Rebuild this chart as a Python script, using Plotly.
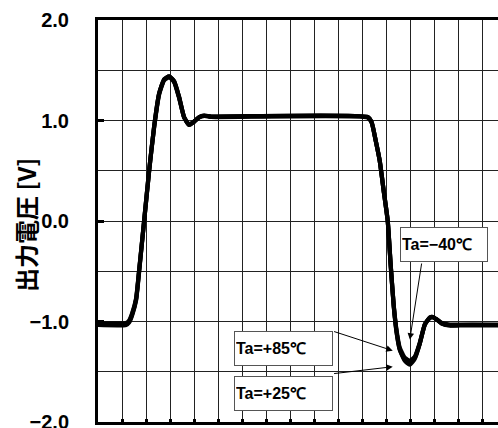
import plotly.graph_objects as go

# time axis in grid divisions
t = [0.0, 1.167, 1.292, 1.417, 1.583, 1.708, 1.917, 2.125, 2.333, 2.542, 2.75, 2.958,
     3.167, 3.375, 3.583, 3.792, 4.0, 4.208, 4.417, 4.708, 11.208, 11.375, 11.542,
     11.708, 11.875, 12.042, 12.167, 12.292, 12.417, 12.542, 12.75, 12.958, 13.167,
     13.375, 13.583, 13.792, 13.917, 14.083, 14.292, 14.625, 15.042, 16.708]

v_m40 = [-1.035, -1.035, -1.01, -0.94, -0.79, -0.51, 0.0, 0.5, 0.94, 1.27, 1.41, 1.44,
         1.39, 1.23, 1.03, 0.955, 0.99, 1.035, 1.05, 1.04, 1.035, 0.98, 0.8,
         0.6, 0.3, 0.0, -0.45, -0.85, -1.12, -1.28, -1.39, -1.43, -1.37,
         -1.22, -1.03, -0.96, -0.955, -0.98, -1.02, -1.04, -1.04, -1.04]
v_p25 = [-1.025, -1.025, -1.0, -0.93, -0.78, -0.5, 0.0, 0.5, 0.94, 1.27, 1.41, 1.44,
         1.39, 1.23, 1.03, 0.955, 0.99, 1.035, 1.05, 1.04, 1.035, 0.98, 0.8,
         0.6, 0.3, 0.0, -0.45, -0.85, -1.12, -1.28, -1.38, -1.41, -1.36,
         -1.22, -1.03, -0.96, -0.955, -0.98, -1.02, -1.04, -1.035, -1.035]
v_p85 = [-1.015, -1.015, -0.99, -0.92, -0.77, -0.49, 0.0, 0.5, 0.93, 1.26, 1.40, 1.43,
         1.38, 1.22, 1.03, 0.96, 0.99, 1.03, 1.045, 1.035, 1.03, 0.98, 0.8,
         0.6, 0.3, 0.0, -0.44, -0.84, -1.10, -1.26, -1.36, -1.39, -1.35,
         -1.21, -1.03, -0.965, -0.96, -0.98, -1.015, -1.03, -1.03, -1.03]

y_tickvals = [-2.0, -1.0, 0.0, 1.0, 2.0]
y_ticktext = ["\u22122.0", "\u22121.0", "0.0", "1.0", "2.0"]

labels = ["Ta=\u221240\u2103", "Ta=+85\u2103", "Ta=+25\u2103"]

fig = go.Figure()
for vals in (v_m40, v_p25, v_p85):
    fig.add_trace(go.Scatter(x=t, y=vals, mode="lines",
                             line=dict(color="black", width=4.2, shape="spline", smoothing=0.5),
                             showlegend=False, hoverinfo="skip"))

font_b = dict(family="Liberation Sans, Arial, sans-serif", size=16, color="black")

# label boxes
boxes = [(14.375, -0.234, labels[0], 84), (7.69, -1.269, labels[1], 95), (7.69, -1.716, labels[2], 95)]
for bx, by, txt, w in boxes:
    fig.add_annotation(x=bx, y=by, xref="x", yref="y", text="<b>%s</b>" % txt, showarrow=False,
                       font=font_b, bgcolor="white", bordercolor="#555", borderwidth=1,
                       borderpad=1, width=w, height=31, align="left", valign="middle")

# arrows (tail -> head)
arrows = [((13.46, -0.408), (12.96, -1.18)),
          ((9.75, -1.095), (12.25, -1.29)),
          ((9.75, -1.52), (12.25, -1.45))]
for (tx, ty), (hx, hy) in arrows:
    fig.add_annotation(x=hx, y=hy, ax=tx, ay=ty, xref="x", yref="y", axref="x", ayref="y",
                       text="", showarrow=True, arrowhead=2, arrowsize=1.3, arrowwidth=1,
                       arrowcolor="black", standoff=0)

# y-axis title
fig.add_annotation(x=0, y=0.49, xref="paper", yref="paper", xshift=-73, text="<b>出力電圧 [V]</b>",
                   textangle=-90, showarrow=False, xanchor="center", yanchor="middle",
                   font=dict(family="Noto Sans CJK JP", size=24, color="black"))

fig.update_xaxes(range=[0, 16.625], dtick=1, tick0=0, showgrid=True, gridcolor="#222", gridwidth=1,
                 showticklabels=False, ticks="inside", ticklen=3, tickwidth=3, tickcolor="black",
                 showline=True, linewidth=3, linecolor="black", mirror=True, zeroline=False,
                 fixedrange=True, automargin=False)
fig.update_yaxes(range=[-2, 2], tickvals=y_tickvals, ticktext=["<b>%s</b>" % s for s in y_ticktext],
                 showgrid=True, gridcolor="#222", gridwidth=1, ticks="inside", ticklen=6, tickwidth=3,
                 tickcolor="black", showline=True, linewidth=3, linecolor="black", mirror=False,
                 zeroline=False, ticklabelstandoff=22, ticklabeloverflow="allow", automargin=False,
                 tickfont=dict(family="Liberation Sans, Arial", size=20, color="black"),
                 minor=dict(dtick=0.5, tick0=0, showgrid=True, gridcolor="#222", gridwidth=1, ticks=""),
                 fixedrange=True)
fig.update_layout(width=498, height=428, margin=dict(l=98, r=0, t=20, b=6, autoexpand=False),
                  plot_bgcolor="white", paper_bgcolor="white")
fig.write_html("out.html")
